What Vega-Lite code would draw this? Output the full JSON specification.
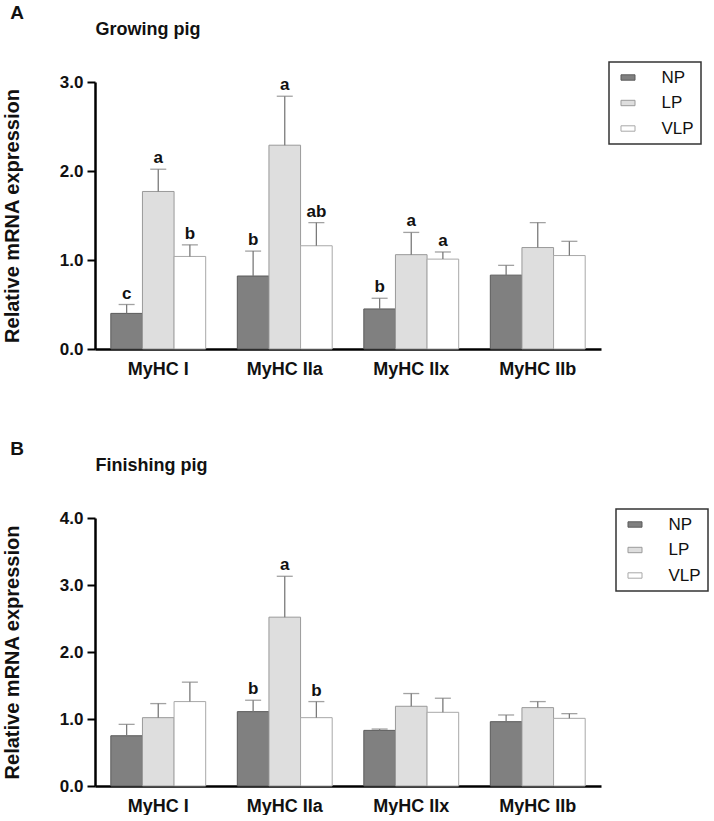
{
  "$schema": "https://vega.github.io/schema/vega-lite/v6.json",
  "padding": {"left": 2, "top": 4, "right": 0, "bottom": 0},
  "background": "white",
  "datasets": {
    "growing": [
      {"gene": "MyHC I", "diet": "NP", "mean": 0.40, "upper": 0.50, "letter": "c"},
      {"gene": "MyHC I", "diet": "LP", "mean": 1.77, "upper": 2.02, "letter": "a"},
      {"gene": "MyHC I", "diet": "VLP", "mean": 1.04, "upper": 1.17, "letter": "b"},
      {"gene": "MyHC IIa", "diet": "NP", "mean": 0.82, "upper": 1.10, "letter": "b"},
      {"gene": "MyHC IIa", "diet": "LP", "mean": 2.29, "upper": 2.84, "letter": "a"},
      {"gene": "MyHC IIa", "diet": "VLP", "mean": 1.16, "upper": 1.42, "letter": "ab"},
      {"gene": "MyHC IIx", "diet": "NP", "mean": 0.45, "upper": 0.57, "letter": "b"},
      {"gene": "MyHC IIx", "diet": "LP", "mean": 1.06, "upper": 1.31, "letter": "a"},
      {"gene": "MyHC IIx", "diet": "VLP", "mean": 1.01, "upper": 1.09, "letter": "a"},
      {"gene": "MyHC IIb", "diet": "NP", "mean": 0.83, "upper": 0.94, "letter": ""},
      {"gene": "MyHC IIb", "diet": "LP", "mean": 1.14, "upper": 1.42, "letter": ""},
      {"gene": "MyHC IIb", "diet": "VLP", "mean": 1.05, "upper": 1.21, "letter": ""}
    ],
    "finishing": [
      {"gene": "MyHC I", "diet": "NP", "mean": 0.75, "upper": 0.92, "letter": ""},
      {"gene": "MyHC I", "diet": "LP", "mean": 1.02, "upper": 1.23, "letter": ""},
      {"gene": "MyHC I", "diet": "VLP", "mean": 1.26, "upper": 1.55, "letter": ""},
      {"gene": "MyHC IIa", "diet": "NP", "mean": 1.11, "upper": 1.28, "letter": "b"},
      {"gene": "MyHC IIa", "diet": "LP", "mean": 2.52, "upper": 3.13, "letter": "a"},
      {"gene": "MyHC IIa", "diet": "VLP", "mean": 1.02, "upper": 1.26, "letter": "b"},
      {"gene": "MyHC IIx", "diet": "NP", "mean": 0.83, "upper": 0.85, "letter": ""},
      {"gene": "MyHC IIx", "diet": "LP", "mean": 1.19, "upper": 1.38, "letter": ""},
      {"gene": "MyHC IIx", "diet": "VLP", "mean": 1.10, "upper": 1.31, "letter": ""},
      {"gene": "MyHC IIb", "diet": "NP", "mean": 0.96, "upper": 1.06, "letter": ""},
      {"gene": "MyHC IIb", "diet": "LP", "mean": 1.17, "upper": 1.26, "letter": ""},
      {"gene": "MyHC IIb", "diet": "VLP", "mean": 1.01, "upper": 1.08, "letter": ""}
    ]
  },
  "spacing": 62,
  "resolve": {
    "scale": {"fill": "independent", "stroke": "independent"},
    "legend": {"fill": "independent", "stroke": "independent"}
  },
  "vconcat": [
    {
      "data": {"name": "growing"},
      "width": 506,
      "height": 267,
      "title": {"text": "A", "anchor": "start", "frame": "bounds", "fontSize": 19, "fontWeight": "bold", "dx": 8, "offset": -3, "color": "#111"},
      "resolve": {"axis": {"x": "independent"}},
      "layer": [
        {
          "mark": {"type": "bar", "strokeWidth": 1},
          "encoding": {
            "x": {"field": "gene", "type": "nominal", "sort": ["MyHC I", "MyHC IIa", "MyHC IIx", "MyHC IIb"],
              "scale": {"paddingInner": 0.25, "paddingOuter": 0.125},
              "axis": {"orient": "bottom", "title": null, "labelAngle": 0, "ticks": false, "domainColor": "#000", "domainWidth": 2.5, "labelFontSize": 18, "labelFontWeight": "bold", "labelColor": "#111", "labelPadding": 11}},
            "xOffset": {"field": "diet", "type": "nominal", "sort": ["NP", "LP", "VLP"], "scale": {"paddingInner": 0, "paddingOuter": 0}},
            "y": {"field": "mean", "type": "quantitative", "scale": {"domain": [0, 3], "nice": false},
              "axis": {"values": [0, 1, 2, 3], "format": ".1f", "grid": false, "title": "Relative mRNA expression", "titleFontSize": 20, "titleFontWeight": "bold", "titleColor": "#111", "titlePadding": 37, "domainColor": "#000", "domainWidth": 2.5, "tickColor": "#000", "tickWidth": 2, "tickSize": 8, "labelFontSize": 17, "labelFontWeight": "bold", "labelColor": "#111", "labelPadding": 4}},
            "fill": {"field": "diet", "type": "nominal", "sort": ["NP", "LP", "VLP"], "scale": {"domain": ["NP", "LP", "VLP"], "range": ["#808080", "#dedede", "#ffffff"]},
              "legend": {"title": null, "orient": "none", "legendX": 514, "legendY": -20}},
            "stroke": {"field": "diet", "type": "nominal", "sort": ["NP", "LP", "VLP"], "scale": {"domain": ["NP", "LP", "VLP"], "range": ["#5a5a5a", "#9a9a9a", "#a8a8a8"]},
              "legend": {"title": null, "orient": "none", "legendX": 514, "legendY": -20}}
          }
        },
        {
          "mark": {"type": "rule", "color": "#7a7a7a", "strokeWidth": 1.3},
          "encoding": {
            "x": {"field": "gene", "type": "nominal", "sort": ["MyHC I", "MyHC IIa", "MyHC IIx", "MyHC IIb"],
              "axis": {"orient": "top", "title": "Growing pig", "domain": false, "ticks": false, "labels": false, "titleAnchor": "start", "titleFontSize": 18, "titleFontWeight": "bold", "titleColor": "#111", "titlePadding": 44}},
            "xOffset": {"field": "diet", "type": "nominal", "sort": ["NP", "LP", "VLP"]},
            "y": {"field": "mean", "type": "quantitative"},
            "y2": {"field": "upper"}
          }
        },
        {
          "mark": {"type": "tick", "color": "#7a7a7a", "thickness": 1.3, "size": 16, "orient": "horizontal"},
          "encoding": {
            "x": {"field": "gene", "type": "nominal", "sort": ["MyHC I", "MyHC IIa", "MyHC IIx", "MyHC IIb"], "axis": null},
            "xOffset": {"field": "diet", "type": "nominal", "sort": ["NP", "LP", "VLP"]},
            "y": {"field": "upper", "type": "quantitative"}
          }
        },
        {
          "mark": {"type": "text", "fontSize": 17, "fontWeight": "bold", "color": "#111", "baseline": "alphabetic", "dy": -6},
          "encoding": {
            "x": {"field": "gene", "type": "nominal", "sort": ["MyHC I", "MyHC IIa", "MyHC IIx", "MyHC IIb"], "axis": null},
            "xOffset": {"field": "diet", "type": "nominal", "sort": ["NP", "LP", "VLP"]},
            "y": {"field": "upper", "type": "quantitative"},
            "text": {"field": "letter"}
          }
        }
      ]
    },
    {
      "data": {"name": "finishing"},
      "width": 506,
      "height": 268,
      "title": {"text": "B", "anchor": "start", "frame": "bounds", "fontSize": 19, "fontWeight": "bold", "dx": 8, "offset": -3, "color": "#111"},
      "resolve": {"axis": {"x": "independent"}},
      "layer": [
        {
          "mark": {"type": "bar", "strokeWidth": 1},
          "encoding": {
            "x": {"field": "gene", "type": "nominal", "sort": ["MyHC I", "MyHC IIa", "MyHC IIx", "MyHC IIb"],
              "scale": {"paddingInner": 0.25, "paddingOuter": 0.125},
              "axis": {"orient": "bottom", "title": null, "labelAngle": 0, "ticks": false, "domainColor": "#000", "domainWidth": 2.5, "labelFontSize": 18, "labelFontWeight": "bold", "labelColor": "#111", "labelPadding": 11}},
            "xOffset": {"field": "diet", "type": "nominal", "sort": ["NP", "LP", "VLP"], "scale": {"paddingInner": 0, "paddingOuter": 0}},
            "y": {"field": "mean", "type": "quantitative", "scale": {"domain": [0, 4], "nice": false},
              "axis": {"values": [0, 1, 2, 3, 4], "format": ".1f", "grid": false, "title": "Relative mRNA expression", "titleFontSize": 20, "titleFontWeight": "bold", "titleColor": "#111", "titlePadding": 37, "domainColor": "#000", "domainWidth": 2.5, "tickColor": "#000", "tickWidth": 2, "tickSize": 8, "labelFontSize": 17, "labelFontWeight": "bold", "labelColor": "#111", "labelPadding": 4}},
            "fill": {"field": "diet", "type": "nominal", "sort": ["NP", "LP", "VLP"], "scale": {"domain": ["NP", "LP", "VLP"], "range": ["#808080", "#dedede", "#ffffff"]},
              "legend": {"title": null, "orient": "none", "legendX": 521, "legendY": -9}},
            "stroke": {"field": "diet", "type": "nominal", "sort": ["NP", "LP", "VLP"], "scale": {"domain": ["NP", "LP", "VLP"], "range": ["#5a5a5a", "#9a9a9a", "#a8a8a8"]},
              "legend": {"title": null, "orient": "none", "legendX": 521, "legendY": -9}}
          }
        },
        {
          "mark": {"type": "rule", "color": "#7a7a7a", "strokeWidth": 1.3},
          "encoding": {
            "x": {"field": "gene", "type": "nominal", "sort": ["MyHC I", "MyHC IIa", "MyHC IIx", "MyHC IIb"],
              "axis": {"orient": "top", "title": "Finishing pig", "domain": false, "ticks": false, "labels": false, "titleAnchor": "start", "titleFontSize": 18, "titleFontWeight": "bold", "titleColor": "#111", "titlePadding": 44}},
            "xOffset": {"field": "diet", "type": "nominal", "sort": ["NP", "LP", "VLP"]},
            "y": {"field": "mean", "type": "quantitative"},
            "y2": {"field": "upper"}
          }
        },
        {
          "mark": {"type": "tick", "color": "#7a7a7a", "thickness": 1.3, "size": 16, "orient": "horizontal"},
          "encoding": {
            "x": {"field": "gene", "type": "nominal", "sort": ["MyHC I", "MyHC IIa", "MyHC IIx", "MyHC IIb"], "axis": null},
            "xOffset": {"field": "diet", "type": "nominal", "sort": ["NP", "LP", "VLP"]},
            "y": {"field": "upper", "type": "quantitative"}
          }
        },
        {
          "mark": {"type": "text", "fontSize": 17, "fontWeight": "bold", "color": "#111", "baseline": "alphabetic", "dy": -6},
          "encoding": {
            "x": {"field": "gene", "type": "nominal", "sort": ["MyHC I", "MyHC IIa", "MyHC IIx", "MyHC IIb"], "axis": null},
            "xOffset": {"field": "diet", "type": "nominal", "sort": ["NP", "LP", "VLP"]},
            "y": {"field": "upper", "type": "quantitative"},
            "text": {"field": "letter"}
          }
        }
      ]
    }
  ],
  "config": {
    "font": "Liberation Sans",
    "view": {"stroke": null},
    "legend": {
      "strokeColor": "#333",
      "strokeWidth": 1.5,
      "fillColor": "#ffffff",
      "padding": 7,
      "symbolType": "M-1.3,-0.5H1.3V0.5H-1.3Z",
      "symbolSize": 116,
      "symbolStrokeWidth": 1,
      "symbolOffset": 3.5,
      "labelOffset": 25,
      "labelFontSize": 17,
      "labelColor": "#111",
      "rowPadding": 7.5,
      "labelLimit": 100
    }
  }
}
